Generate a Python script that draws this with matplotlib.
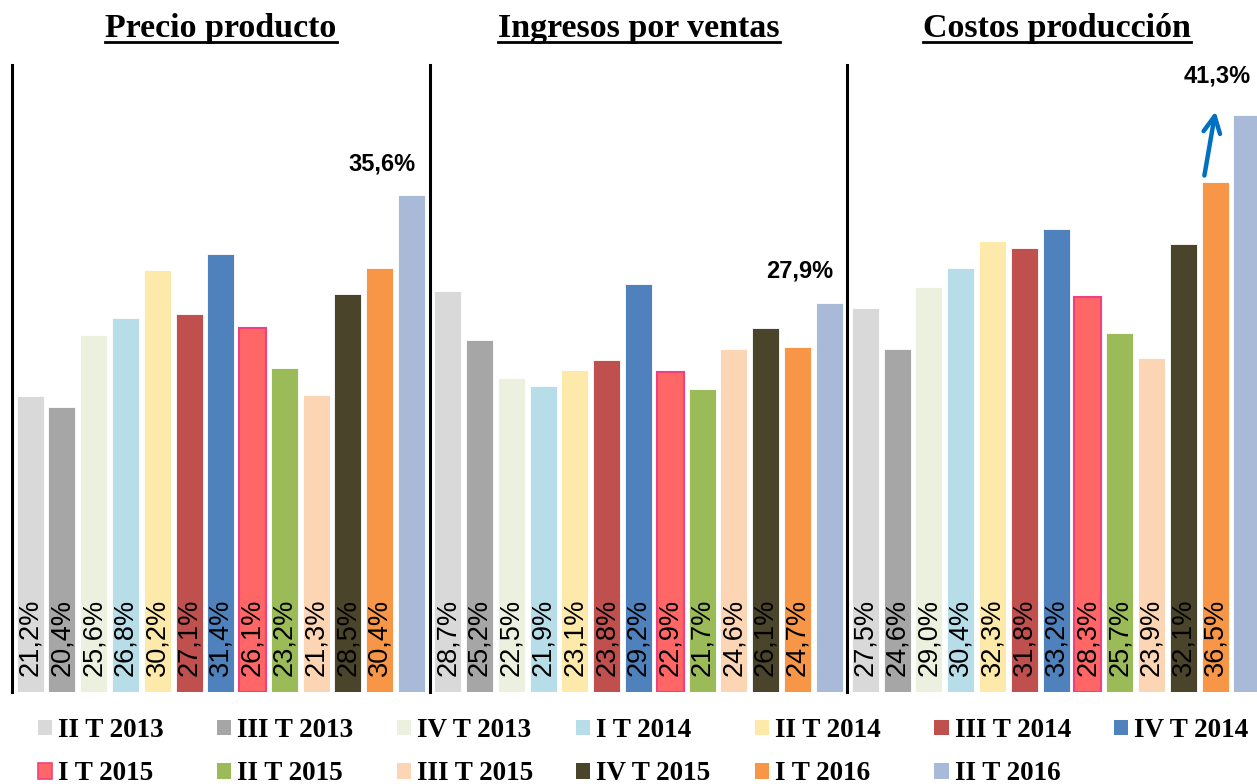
import matplotlib.pyplot as plt
import numpy as np
from matplotlib.patches import Patch
from matplotlib.lines import Line2D

# datos
titulos = ['Precio producto', 'Ingresos por ventas', 'Costos producción']
trimestres = ['II T 2013', 'III T 2013', 'IV T 2013', 'I T 2014', 'II T 2014',
              'III T 2014', 'IV T 2014', 'I T 2015', 'II T 2015', 'III T 2015',
              'IV T 2015', 'I T 2016', 'II T 2016']
precio = [21.2, 20.4, 25.6, 26.8, 30.2, 27.1, 31.4, 26.1, 23.2, 21.3, 28.5, 30.4, 35.6]
ingresos = [28.7, 25.2, 22.5, 21.9, 23.1, 23.8, 29.2, 22.9, 21.7, 24.6, 26.1, 24.7, 27.9]
costos = [27.5, 24.6, 29.0, 30.4, 32.3, 31.8, 33.2, 28.3, 25.7, 23.9, 32.1, 36.5, 41.3]
series = [precio, ingresos, costos]

colores = ['#D9D9D9', '#A6A6A6', '#EBF1DE', '#B7DEE8', '#FDE9A9', '#C0504D',
           '#4F81BD', '#FF6666', '#9BBB59', '#FCD5B5', '#4A452A', '#F79646',
           '#A9BAD8']

W, H = 1257, 784
fig = plt.figure(figsize=(W / 100, H / 100), dpi=100)
ax = fig.add_axes([12 / W, (H - 692) / H, (W - 12) / W, (692 - 65) / H])

paso = 13.14
n = len(trimestres)
for g, vals in enumerate(series):
    x = g * paso + np.arange(n)
    bars = ax.bar(x, vals, 0.85, color=colores, edgecolor='white', linewidth=0.6)
    # barra I T 2015 con borde
    bars[7].set_edgecolor('#F0407F')
    bars[7].set_linewidth(1.5)
    for xi, v in zip(x[:-1], vals[:-1]):
        ax.text(xi, 1.15, f'{v:.1f}%'.replace('.', ','), rotation=90,
                ha='center', va='bottom', fontsize=19.5,
                family='Liberation Sans', color='black')
    # etiqueta de la ultima barra
    dy = 2.0 if g == 2 else 1.4
    ax.text(x[-1] - 0.94, vals[-1] + dy, f'{vals[-1]:.1f}%'.replace('.', ','),
            ha='center', va='bottom', fontsize=17, fontweight='bold',
            family='Liberation Sans')

# separadores
for s in range(3):
    ax.axvline(s * paso - (paso - 12) / 2, color='black', lw=2.2, clip_on=False)

# flecha en costos
xo = 2 * paso + 11
ax.annotate('', xy=(xo + 0.03, costos[-1] + 0.5), xytext=(xo - 0.35, costos[-2] + 0.3),
            arrowprops=dict(arrowstyle='->', lw=3.2, color='#0070C0', mutation_scale=30))

ax.set_xlim(-0.57, (W - 29.5) / 31.8)
ax.set_ylim(0, (692 - 65) / 13.96)
ax.axis('off')

# titulos subrayados
tx = [221, 639, 1057]
fig.canvas.draw()
r = fig.canvas.get_renderer()
for t, cx in zip(titulos, tx):
    tt = fig.text(cx / W, 1 - 37 / H, t, ha='center', va='baseline', fontsize=24.5,
                  fontweight='bold', family='Liberation Serif')
    bb = tt.get_window_extent(r)
    yl = (H - 42) / H
    fig.add_artist(Line2D([bb.x0 / W, bb.x1 / W], [yl, yl], color='black',
                          lw=2, transform=fig.transFigure))

# leyenda: una columna por bloque, dos filas
handles = [Patch(facecolor=c) for c in colores]
handles[7] = Patch(facecolor=colores[7], edgecolor='#F0407F', linewidth=1.2)
for c in range(7):
    px = 38 + c * 179.3
    idx = [i for i in (c, c + 7) if i < n]
    fig.legend([handles[i] for i in idx], [trimestres[i] for i in idx],
               loc='upper left', bbox_to_anchor=(px / W, 1 - 718 / H),
               frameon=False,
               prop={'family': 'Liberation Serif', 'weight': 'bold', 'size': 19.5},
               handlelength=0.52, handleheight=0.52, handletextpad=0.22,
               labelspacing=0.68, borderpad=0, borderaxespad=0)

fig.savefig('out.png', dpi=100)
